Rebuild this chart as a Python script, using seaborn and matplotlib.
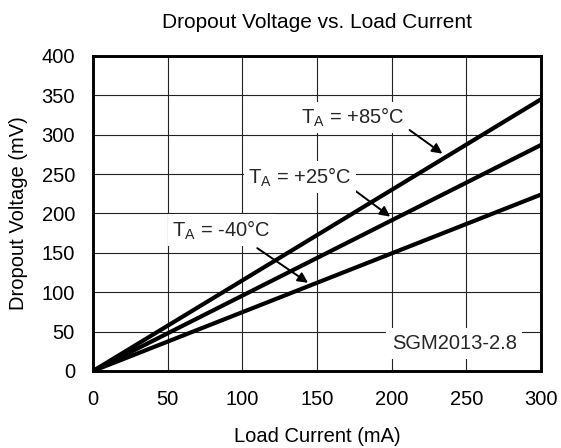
import matplotlib
matplotlib.use("Agg")
import matplotlib.pyplot as plt
import seaborn as sns
import pandas as pd

# Data
load_current = [0, 300]
v_85 = [0, 345]
v_25 = [0, 287]
v_m40 = [0, 224]
temps = ["+85", "+25", "-40"]

xticks = [0, 50, 100, 150, 200, 250, 300]
yticks = [0, 50, 100, 150, 200, 250, 300, 350, 400]

rows = []
for t, vals in zip(temps, [v_85, v_25, v_m40]):
    for x, y in zip(load_current, vals):
        rows.append({"current": x, "voltage": y, "temp": t})
df = pd.DataFrame(rows)

sns.set_theme(style="white")
plt.rcParams['font.family'] = ['Liberation Sans', 'DejaVu Sans']
plt.rcParams['mathtext.fontset'] = 'custom'
plt.rcParams['mathtext.rm'] = 'Liberation Sans'
plt.rcParams['mathtext.it'] = 'Liberation Sans'

FS = 14.5

fig = plt.figure(figsize=(5.61, 4.48), dpi=100)
ax = fig.add_axes([0.1658, 0.1719, 0.7985, 0.7031])

sns.lineplot(data=df, x="current", y="voltage", hue="temp",
             palette={"+85": "black", "+25": "black", "-40": "black"},
             linewidth=3.0, legend=False, ax=ax, zorder=3)

ax.set_xlim(0, 300)
ax.set_ylim(0, 400)
ax.set_xticks(xticks)
ax.set_yticks(yticks)
ax.grid(True, color="#222222", linewidth=0.8, zorder=0)
ax.set_axisbelow(True)
for s in ax.spines.values():
    s.set_color("black")
    s.set_linewidth(2.1)
ax.tick_params(direction="in", length=0, colors="black", labelsize=FS)
ax.tick_params(axis="y", pad=13)
ax.tick_params(axis="x", pad=14)
for lab in ax.get_xticklabels() + ax.get_yticklabels():
    lab.set_color("black")

ax.set_xlabel("Load Current (mA)", fontsize=FS, labelpad=13, color="black")
ax.set_ylabel("Dropout Voltage (mV)", fontsize=FS, labelpad=10, color="black")
ax.set_title("Dropout Voltage vs. Load Current", fontsize=15, pad=20, color="black")

bbox = dict(facecolor="white", edgecolor="none", pad=3)
arrow = dict(arrowstyle="-|>", color="black", lw=1.4, mutation_scale=15,
             shrinkA=0, shrinkB=0)

ax.annotate("", xy=(234, 276), xytext=(212, 306), arrowprops=arrow, zorder=4)
ax.annotate("", xy=(199, 196), xytext=(172, 234), arrowprops=arrow, zorder=4)
ax.annotate("", xy=(144, 112), xytext=(110, 156), arrowprops=arrow, zorder=4)

ax.text(139, 322, r"T$_\mathrm{A}$ = +85°C", fontsize=FS, va="center", ha="left",
        bbox=bbox, zorder=5)
ax.text(104, 246, r"T$_\mathrm{A}$ = +25°C", fontsize=FS, va="center", ha="left",
        bbox=bbox, zorder=5)
ax.text(53, 179, r"T$_\mathrm{A}$ = -40°C", fontsize=FS, va="center", ha="left",
        bbox=bbox, zorder=5)
ax.text(200, 35, "SGM2013-2.8", fontsize=FS, va="center", ha="left",
        bbox=dict(facecolor="white", edgecolor="none", pad=4), zorder=5)

fig.savefig("out.png", dpi=100)
